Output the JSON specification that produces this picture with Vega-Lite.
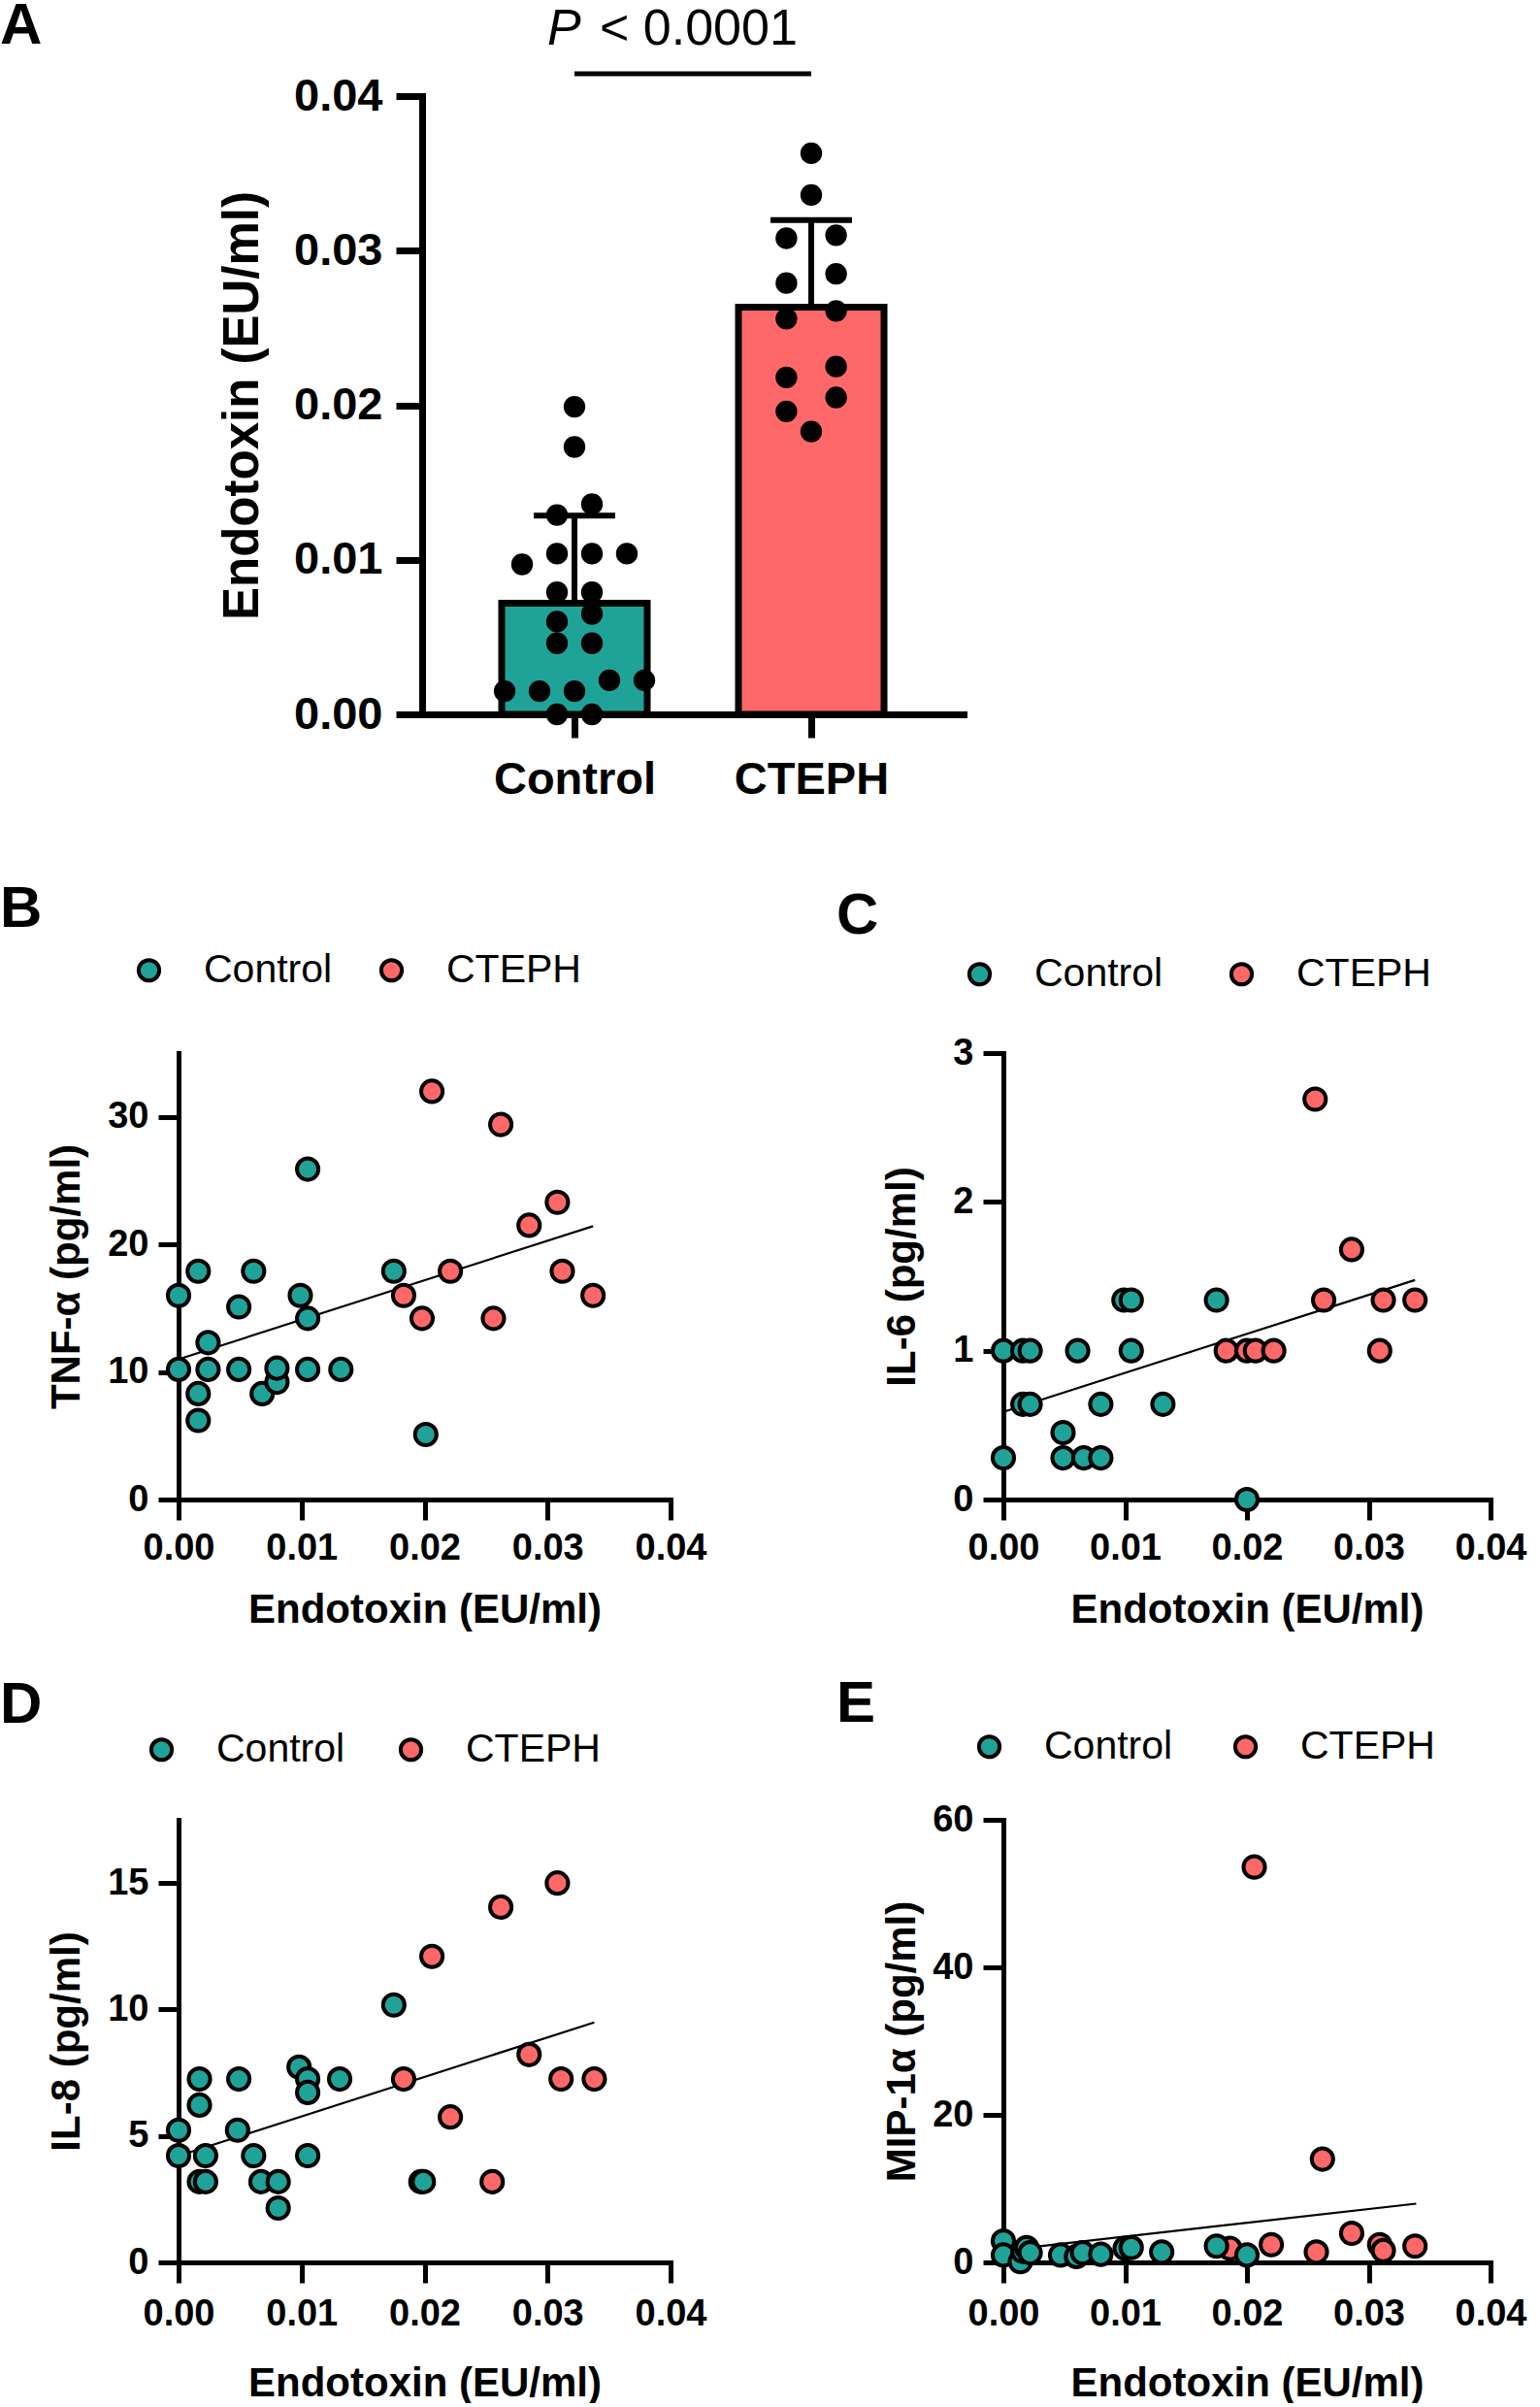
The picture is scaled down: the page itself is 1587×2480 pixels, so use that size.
{
  "$schema": "https://vega.github.io/schema/vega-lite/v6.json",
  "background": "white",
  "padding": {"left": 0, "top": -4, "right": 20, "bottom": 0},
  "datasets": {
    "endo": [
      {"group": "Control", "endotoxin": 0},
      {"group": "Control", "endotoxin": 0},
      {"group": "Control", "endotoxin": 0.0015},
      {"group": "Control", "endotoxin": 0.0015},
      {"group": "Control", "endotoxin": 0.0015},
      {"group": "Control", "endotoxin": 0.0022},
      {"group": "Control", "endotoxin": 0.0022},
      {"group": "Control", "endotoxin": 0.0046},
      {"group": "Control", "endotoxin": 0.0046},
      {"group": "Control", "endotoxin": 0.006},
      {"group": "Control", "endotoxin": 0.0065},
      {"group": "Control", "endotoxin": 0.0079},
      {"group": "Control", "endotoxin": 0.0079},
      {"group": "Control", "endotoxin": 0.0097},
      {"group": "Control", "endotoxin": 0.0104},
      {"group": "Control", "endotoxin": 0.0104},
      {"group": "Control", "endotoxin": 0.0104},
      {"group": "Control", "endotoxin": 0.0129},
      {"group": "Control", "endotoxin": 0.0136},
      {"group": "Control", "endotoxin": 0.0173},
      {"group": "Control", "endotoxin": 0.0199},
      {"group": "CTEPH", "endotoxin": 0.0183},
      {"group": "CTEPH", "endotoxin": 0.0196},
      {"group": "CTEPH", "endotoxin": 0.0205},
      {"group": "CTEPH", "endotoxin": 0.0218},
      {"group": "CTEPH", "endotoxin": 0.0225},
      {"group": "CTEPH", "endotoxin": 0.0256},
      {"group": "CTEPH", "endotoxin": 0.0261},
      {"group": "CTEPH", "endotoxin": 0.0279},
      {"group": "CTEPH", "endotoxin": 0.0285},
      {"group": "CTEPH", "endotoxin": 0.0308},
      {"group": "CTEPH", "endotoxin": 0.031},
      {"group": "CTEPH", "endotoxin": 0.0336},
      {"group": "CTEPH", "endotoxin": 0.0363}
    ],
    "annot": [
      {"from": "Control", "to": "CTEPH", "bracket": 0.04144, "texty": 0.04333, "p": "P", "rest": "< 0.0001"}
    ],
    "tnf": [
      {"group": "CTEPH", "endotoxin": 0.0206, "value": 32.0},
      {"group": "CTEPH", "endotoxin": 0.0262, "value": 29.4},
      {"group": "CTEPH", "endotoxin": 0.0308, "value": 23.3},
      {"group": "CTEPH", "endotoxin": 0.0285, "value": 21.5},
      {"group": "CTEPH", "endotoxin": 0.0221, "value": 17.9},
      {"group": "CTEPH", "endotoxin": 0.0312, "value": 17.9},
      {"group": "CTEPH", "endotoxin": 0.0183, "value": 16.0},
      {"group": "CTEPH", "endotoxin": 0.0337, "value": 16.0},
      {"group": "CTEPH", "endotoxin": 0.0198, "value": 14.2},
      {"group": "CTEPH", "endotoxin": 0.0256, "value": 14.2},
      {"group": "Control", "endotoxin": 0.0, "value": 16.0},
      {"group": "Control", "endotoxin": 0.0, "value": 10.2},
      {"group": "Control", "endotoxin": 0.0016, "value": 17.9},
      {"group": "Control", "endotoxin": 0.0016, "value": 8.3},
      {"group": "Control", "endotoxin": 0.0016, "value": 6.2},
      {"group": "Control", "endotoxin": 0.0024, "value": 12.3},
      {"group": "Control", "endotoxin": 0.0024, "value": 10.2},
      {"group": "Control", "endotoxin": 0.0049, "value": 15.1},
      {"group": "Control", "endotoxin": 0.0049, "value": 10.2},
      {"group": "Control", "endotoxin": 0.0061, "value": 17.9},
      {"group": "Control", "endotoxin": 0.0068, "value": 8.3},
      {"group": "Control", "endotoxin": 0.008, "value": 9.2},
      {"group": "Control", "endotoxin": 0.008, "value": 10.3},
      {"group": "Control", "endotoxin": 0.0099, "value": 16.0},
      {"group": "Control", "endotoxin": 0.0105, "value": 14.2},
      {"group": "Control", "endotoxin": 0.0105, "value": 10.2},
      {"group": "Control", "endotoxin": 0.0105, "value": 25.9},
      {"group": "Control", "endotoxin": 0.0132, "value": 10.2},
      {"group": "Control", "endotoxin": 0.0175, "value": 17.9},
      {"group": "Control", "endotoxin": 0.0201, "value": 5.1}
    ],
    "tnf_fit": [
      {"endotoxin": 0.0, "value": 11.0},
      {"endotoxin": 0.0337, "value": 21.43}
    ],
    "il6": [
      {"group": "CTEPH", "endotoxin": 0.0256, "value": 2.69},
      {"group": "CTEPH", "endotoxin": 0.0286, "value": 1.68},
      {"group": "CTEPH", "endotoxin": 0.0263, "value": 1.34},
      {"group": "CTEPH", "endotoxin": 0.0312, "value": 1.34},
      {"group": "CTEPH", "endotoxin": 0.0338, "value": 1.34},
      {"group": "CTEPH", "endotoxin": 0.0183, "value": 1.0},
      {"group": "CTEPH", "endotoxin": 0.02, "value": 1.0},
      {"group": "CTEPH", "endotoxin": 0.0207, "value": 1.0},
      {"group": "CTEPH", "endotoxin": 0.0222, "value": 1.0},
      {"group": "CTEPH", "endotoxin": 0.0309, "value": 1.0},
      {"group": "Control", "endotoxin": 0.0, "value": 1.0},
      {"group": "Control", "endotoxin": 0.0, "value": 0.28},
      {"group": "Control", "endotoxin": 0.0016, "value": 1.0},
      {"group": "Control", "endotoxin": 0.0022, "value": 1.0},
      {"group": "Control", "endotoxin": 0.0016, "value": 0.64},
      {"group": "Control", "endotoxin": 0.0022, "value": 0.64},
      {"group": "Control", "endotoxin": 0.0049, "value": 0.45},
      {"group": "Control", "endotoxin": 0.0049, "value": 0.28},
      {"group": "Control", "endotoxin": 0.0061, "value": 1.0},
      {"group": "Control", "endotoxin": 0.0066, "value": 0.28},
      {"group": "Control", "endotoxin": 0.008, "value": 0.64},
      {"group": "Control", "endotoxin": 0.008, "value": 0.28},
      {"group": "Control", "endotoxin": 0.0099, "value": 1.34},
      {"group": "Control", "endotoxin": 0.0105, "value": 1.34},
      {"group": "Control", "endotoxin": 0.0105, "value": 1.0},
      {"group": "Control", "endotoxin": 0.0131, "value": 0.64},
      {"group": "Control", "endotoxin": 0.0175, "value": 1.34},
      {"group": "Control", "endotoxin": 0.02, "value": 0.0}
    ],
    "il6_fit": [
      {"endotoxin": 0.0, "value": 0.589},
      {"endotoxin": 0.0338, "value": 1.475}
    ],
    "il8": [
      {"group": "CTEPH", "endotoxin": 0.0308, "value": 15.0},
      {"group": "CTEPH", "endotoxin": 0.0262, "value": 14.05},
      {"group": "CTEPH", "endotoxin": 0.0206, "value": 12.1},
      {"group": "CTEPH", "endotoxin": 0.0285, "value": 8.22},
      {"group": "CTEPH", "endotoxin": 0.0183, "value": 7.25},
      {"group": "CTEPH", "endotoxin": 0.0311, "value": 7.25},
      {"group": "CTEPH", "endotoxin": 0.0338, "value": 7.25},
      {"group": "CTEPH", "endotoxin": 0.0221, "value": 5.75},
      {"group": "CTEPH", "endotoxin": 0.0255, "value": 3.19},
      {"group": "CTEPH", "endotoxin": 0.0197, "value": 3.19},
      {"group": "Control", "endotoxin": 0.0, "value": 5.23},
      {"group": "Control", "endotoxin": 0.0, "value": 4.22},
      {"group": "Control", "endotoxin": 0.0017, "value": 7.25},
      {"group": "Control", "endotoxin": 0.0017, "value": 6.22},
      {"group": "Control", "endotoxin": 0.0017, "value": 3.19},
      {"group": "Control", "endotoxin": 0.0022, "value": 4.22},
      {"group": "Control", "endotoxin": 0.0022, "value": 3.19},
      {"group": "Control", "endotoxin": 0.0049, "value": 7.25},
      {"group": "Control", "endotoxin": 0.0048, "value": 5.23},
      {"group": "Control", "endotoxin": 0.0061, "value": 4.22},
      {"group": "Control", "endotoxin": 0.0067, "value": 3.19},
      {"group": "Control", "endotoxin": 0.0081, "value": 3.19},
      {"group": "Control", "endotoxin": 0.0081, "value": 2.15},
      {"group": "Control", "endotoxin": 0.0098, "value": 7.72},
      {"group": "Control", "endotoxin": 0.0105, "value": 7.25},
      {"group": "Control", "endotoxin": 0.0105, "value": 6.72},
      {"group": "Control", "endotoxin": 0.0105, "value": 4.22},
      {"group": "Control", "endotoxin": 0.0131, "value": 7.25},
      {"group": "Control", "endotoxin": 0.0175, "value": 10.18},
      {"group": "Control", "endotoxin": 0.0199, "value": 3.19}
    ],
    "il8_fit": [
      {"endotoxin": 0.0, "value": 4.21},
      {"endotoxin": 0.0338, "value": 9.49}
    ],
    "mip": [
      {"group": "CTEPH", "endotoxin": 0.0206, "value": 53.6},
      {"group": "CTEPH", "endotoxin": 0.0262, "value": 14.0},
      {"group": "CTEPH", "endotoxin": 0.0286, "value": 3.95},
      {"group": "CTEPH", "endotoxin": 0.022, "value": 2.4},
      {"group": "CTEPH", "endotoxin": 0.0309, "value": 2.4},
      {"group": "CTEPH", "endotoxin": 0.0338, "value": 2.2},
      {"group": "CTEPH", "endotoxin": 0.0257, "value": 1.4},
      {"group": "CTEPH", "endotoxin": 0.0186, "value": 1.9},
      {"group": "CTEPH", "endotoxin": 0.0312, "value": 1.6},
      {"group": "Control", "endotoxin": 0.0, "value": 2.9},
      {"group": "Control", "endotoxin": 0.0, "value": 1.0},
      {"group": "Control", "endotoxin": 0.0014, "value": 0.1},
      {"group": "Control", "endotoxin": 0.0016, "value": 1.5},
      {"group": "Control", "endotoxin": 0.0019, "value": 2.0},
      {"group": "Control", "endotoxin": 0.0022, "value": 1.3},
      {"group": "Control", "endotoxin": 0.0047, "value": 1.0},
      {"group": "Control", "endotoxin": 0.006, "value": 0.8},
      {"group": "Control", "endotoxin": 0.0065, "value": 1.3},
      {"group": "Control", "endotoxin": 0.008, "value": 1.1},
      {"group": "Control", "endotoxin": 0.01, "value": 1.9},
      {"group": "Control", "endotoxin": 0.0105, "value": 2.0},
      {"group": "Control", "endotoxin": 0.013, "value": 1.4},
      {"group": "Control", "endotoxin": 0.0175, "value": 2.2},
      {"group": "Control", "endotoxin": 0.02, "value": 1.0}
    ],
    "mip_fit": [
      {"endotoxin": 0.0, "value": 1.64},
      {"endotoxin": 0.0339, "value": 7.96}
    ]
  },
  "config": {
    "view": {"stroke": null},
    "font": "Liberation Sans",
    "axis": {
      "grid": false,
      "domainColor": "black",
      "tickColor": "black",
      "labelColor": "black",
      "titleColor": "black",
      "labelFont": "Liberation Sans",
      "titleFont": "Liberation Sans",
      "labelFontWeight": "bold",
      "titleFontWeight": "bold",
      "labelFontSize": 38,
      "titleFontSize": 42,
      "domainWidth": 5,
      "tickWidth": 5,
      "tickSize": 21,
      "labelFlush": false,
      "labelOverlap": false,
      "domainCap": "square"
    },
    "axisX": {"labelPadding": 10, "titlePadding": 24},
    "axisY": {"labelPadding": 10, "titlePadding": 20},
    "legend": {
      "title": null,
      "orient": "none",
      "direction": "horizontal",
      "labelFont": "Liberation Sans",
      "labelFontSize": 41,
      "labelColor": "black",
      "symbolType": "circle",
      "symbolSize": 450,
      "symbolStrokeColor": "black",
      "symbolStrokeWidth": 4,
      "symbolOpacity": 1,
      "labelOffset": 36,
      "columnPadding": 46,
      "padding": 0
    },
    "title": {
      "font": "Liberation Sans",
      "fontSize": 60,
      "fontWeight": "bold",
      "color": "black",
      "anchor": "start",
      "frame": "group"
    }
  },
  "resolve": {"scale": {"color": "independent"}, "legend": {"color": "independent"}},
  "spacing": 81,
  "vconcat": [
    {
      "bounds": "flush",
      "spacing": 0,
      "resolve": {"scale": {"color": "independent"}, "legend": {"color": "independent"}},
      "hconcat": [
        {
          "width": 251,
          "height": 10,
          "data": {"values": []},
          "mark": "point"
        },
        {
          "width": 558,
          "height": 637,
          "title": {"text": "A", "dx": -435, "offset": -54},
          "data": {"name": "endo"},
          "transform": [
            {"calculate": "datum.group == 'Control' ? 0 : 1", "as": "gi"}
          ],
          "layer": [
            {
              "transform": [
                {"aggregate": [{"op": "mean", "field": "endotoxin", "as": "m"}], "groupby": ["group", "gi"]},
                {"calculate": "datum.gi - 0.3074", "as": "bl"},
                {"calculate": "datum.gi + 0.3074", "as": "br"}
              ],
              "mark": {"type": "rect", "stroke": "black", "strokeWidth": 7},
              "encoding": {
                "x": {
                  "field": "bl",
                  "type": "quantitative",
                  "scale": {"domain": [-0.6434, 1.6434], "nice": false, "zero": false},
                  "axis": {"values": [0, 1], "labelExpr": "datum.value == 0 ? 'Control' : 'CTEPH'", "title": null, "labelFontSize": 47, "domainWidth": 7, "tickWidth": 7, "tickSize": 24, "labelPadding": 20}
                },
                "x2": {"field": "br"},
                "y": {
                  "field": "m",
                  "type": "quantitative",
                  "title": "Endotoxin (EU/ml)",
                  "scale": {"domain": [0, 0.04], "nice": false},
                  "axis": {"values": [0, 0.01, 0.02, 0.03, 0.04], "format": ".2f", "labelFontSize": 47, "titleFontSize": 51, "domainWidth": 7, "tickWidth": 7, "tickSize": 27, "labelPadding": 14, "titlePadding": 26}
                },
                "y2": {"datum": 0},
                "color": {
                  "field": "group",
                  "type": "nominal",
                  "scale": {"domain": ["Control", "CTEPH"], "range": ["#1fa398", "#ff6868"]},
                  "legend": null
                }
              }
            },
            {
              "transform": [
                {"aggregate": [{"op": "mean", "field": "endotoxin", "as": "m"}, {"op": "stdev", "field": "endotoxin", "as": "sd"}], "groupby": ["group", "gi"]},
                {"calculate": "datum.m + datum.sd", "as": "hi"},
                {"calculate": "datum.gi - 0.172", "as": "cl"},
                {"calculate": "datum.gi + 0.172", "as": "cr"}
              ],
              "layer": [
                {
                  "mark": {"type": "rule", "color": "black", "strokeWidth": 6},
                  "encoding": {
                    "x": {"field": "gi", "type": "quantitative"},
                    "y": {"field": "m", "type": "quantitative", "title": "Endotoxin (EU/ml)"},
                    "y2": {"field": "hi"}
                  }
                },
                {
                  "mark": {"type": "rule", "color": "black", "strokeWidth": 6},
                  "encoding": {
                    "x": {"field": "cl", "type": "quantitative"},
                    "x2": {"field": "cr"},
                    "y": {"field": "hi", "type": "quantitative", "title": "Endotoxin (EU/ml)"}
                  }
                }
              ]
            },
            {
              "transform": [
                {"window": [{"op": "lag", "field": "endotoxin", "as": "prev"}], "groupby": ["group"], "sort": [{"field": "endotoxin", "order": "ascending"}]},
                {"calculate": "datum.prev == null || datum.endotoxin - datum.prev > 0.00105 ? 1 : 0", "as": "newc"},
                {"window": [{"op": "sum", "field": "newc", "as": "cid"}], "groupby": ["group"], "sort": [{"field": "endotoxin", "order": "ascending"}], "frame": [null, 0]},
                {"window": [{"op": "row_number", "as": "idx"}], "groupby": ["group", "cid"], "sort": [{"field": "endotoxin", "order": "ascending"}]},
                {"joinaggregate": [{"op": "count", "as": "n"}], "groupby": ["group", "cid"]},
                {"calculate": "datum.gi + (datum.group == 'CTEPH' ? 0.21 : 0.1475) * (datum.idx - 1 - (datum.n - 1) / 2)", "as": "xp"}
              ],
              "mark": {"type": "point", "shape": "circle", "filled": true, "color": "black", "size": 500, "opacity": 1},
              "encoding": {
                "x": {"field": "xp", "type": "quantitative"},
                "y": {"field": "endotoxin", "type": "quantitative", "title": "Endotoxin (EU/ml)"}
              }
            },
            {
              "data": {"name": "annot"},
              "transform": [
                {"calculate": "datum.from == 'Control' ? 0 : 1", "as": "x1"},
                {"calculate": "datum.to == 'Control' ? 0 : 1", "as": "x2"}
              ],
              "layer": [
                {
                  "mark": {"type": "rule", "color": "black", "strokeWidth": 5, "clip": false},
                  "encoding": {
                    "x": {"field": "x1", "type": "quantitative"},
                    "x2": {"field": "x2"},
                    "y": {"field": "bracket", "type": "quantitative", "title": "Endotoxin (EU/ml)"}
                  }
                },
                {
                  "mark": {"type": "text", "align": "left", "baseline": "alphabetic", "fontSize": 52, "fontStyle": "italic", "font": "Liberation Sans", "color": "black", "dx": -28, "clip": false},
                  "encoding": {
                    "x": {"field": "x1", "type": "quantitative"},
                    "y": {"field": "texty", "type": "quantitative", "title": "Endotoxin (EU/ml)"},
                    "text": {"field": "p"}
                  }
                },
                {
                  "mark": {"type": "text", "align": "left", "baseline": "alphabetic", "fontSize": 52, "font": "Liberation Sans", "color": "black", "dx": 26, "clip": false},
                  "encoding": {
                    "x": {"field": "x1", "type": "quantitative"},
                    "y": {"field": "texty", "type": "quantitative", "title": "Endotoxin (EU/ml)"},
                    "text": {"field": "rest"}
                  }
                }
              ]
            }
          ]
        }
      ]
    },
    {
      "spacing": 47,
      "resolve": {"scale": {"color": "independent"}, "legend": {"color": "independent"}},
      "vconcat": [
        {
          "bounds": "flush",
          "spacing": 343,
          "resolve": {"scale": {"color": "independent"}, "legend": {"color": "independent"}},
          "hconcat": [
            {
              "width": 507,
              "height": 460,
              "title": {"text": "B", "dx": -184, "offset": 11},
              "layer": [
                {
                  "data": {"name": "tnf_fit"},
                  "mark": {"type": "line", "color": "black", "strokeWidth": 2.2},
                  "encoding": {
                    "x": {"field": "endotoxin", "type": "quantitative", "title": "Endotoxin (EU/ml)", "scale": {"domain": [0, 0.04], "nice": false, "zero": false}, "axis": {"values": [0, 0.01, 0.02, 0.03, 0.04], "format": ".2f"}},
                    "y": {"field": "value", "type": "quantitative", "title": "TNF-α (pg/ml)", "scale": {"domain": [0, 35], "nice": false}, "axis": {"values": [0, 10, 20, 30], "format": "d"}}
                  }
                },
                {
                  "data": {"name": "tnf"},
                  "mark": {"type": "point", "shape": "circle", "filled": true, "size": 490, "stroke": "black", "strokeWidth": 4, "opacity": 1},
                  "encoding": {
                    "x": {"field": "endotoxin", "type": "quantitative", "title": "Endotoxin (EU/ml)"},
                    "y": {"field": "value", "type": "quantitative", "title": "TNF-α (pg/ml)"},
                    "color": {"field": "group", "type": "nominal", "scale": {"domain": ["Control", "CTEPH"], "range": ["#1fa398", "#ff6868"]}, "legend": {"orient": "none", "legendX": -51, "legendY": -106, "columnPadding": 40}}
                  }
                }
              ]
            },
            {
              "width": 502,
              "height": 460,
              "title": {"text": "C", "dx": -172, "offset": 8},
              "layer": [
                {
                  "data": {"name": "il6_fit"},
                  "mark": {"type": "line", "color": "black", "strokeWidth": 2.2},
                  "encoding": {
                    "x": {"field": "endotoxin", "type": "quantitative", "title": "Endotoxin (EU/ml)", "scale": {"domain": [0, 0.04], "nice": false, "zero": false}, "axis": {"values": [0, 0.01, 0.02, 0.03, 0.04], "format": ".2f"}},
                    "y": {"field": "value", "type": "quantitative", "title": "IL-6 (pg/ml)", "scale": {"domain": [0, 3], "nice": false}, "axis": {"values": [0, 1, 2, 3], "format": "d", "titlePadding": 30}}
                  }
                },
                {
                  "data": {"name": "il6"},
                  "mark": {"type": "point", "shape": "circle", "filled": true, "size": 490, "stroke": "black", "strokeWidth": 4, "opacity": 1},
                  "encoding": {
                    "x": {"field": "endotoxin", "type": "quantitative", "title": "Endotoxin (EU/ml)"},
                    "y": {"field": "value", "type": "quantitative", "title": "IL-6 (pg/ml)"},
                    "color": {"field": "group", "type": "nominal", "scale": {"domain": ["Control", "CTEPH"], "range": ["#1fa398", "#ff6868"]}, "legend": {"orient": "none", "legendX": -45, "legendY": -102, "columnPadding": 60}}
                  }
                }
              ]
            }
          ]
        },
        {
          "bounds": "flush",
          "spacing": 343,
          "resolve": {"scale": {"color": "independent"}, "legend": {"color": "independent"}},
          "hconcat": [
            {
              "width": 507,
              "height": 456,
              "title": {"text": "D", "dx": -184, "offset": -6},
              "layer": [
                {
                  "data": {"name": "il8_fit"},
                  "mark": {"type": "line", "color": "black", "strokeWidth": 2.2},
                  "encoding": {
                    "x": {"field": "endotoxin", "type": "quantitative", "title": "Endotoxin (EU/ml)", "scale": {"domain": [0, 0.04], "nice": false, "zero": false}, "axis": {"values": [0, 0.01, 0.02, 0.03, 0.04], "format": ".2f", "labelPadding": 13, "titlePadding": 32}},
                    "y": {"field": "value", "type": "quantitative", "title": "IL-8 (pg/ml)", "scale": {"domain": [0, 17.5], "nice": false}, "axis": {"values": [0, 5, 10, 15], "format": "d"}}
                  }
                },
                {
                  "data": {"name": "il8"},
                  "mark": {"type": "point", "shape": "circle", "filled": true, "size": 490, "stroke": "black", "strokeWidth": 4, "opacity": 1},
                  "encoding": {
                    "x": {"field": "endotoxin", "type": "quantitative", "title": "Endotoxin (EU/ml)"},
                    "y": {"field": "value", "type": "quantitative", "title": "IL-8 (pg/ml)"},
                    "color": {"field": "group", "type": "nominal", "scale": {"domain": ["Control", "CTEPH"], "range": ["#1fa398", "#ff6868"]}, "legend": {"orient": "none", "legendX": -38, "legendY": -93, "columnPadding": 47}}
                  }
                }
              ]
            },
            {
              "width": 502,
              "height": 456,
              "title": {"text": "E", "dx": -172, "offset": -8},
              "layer": [
                {
                  "data": {"name": "mip_fit"},
                  "mark": {"type": "line", "color": "black", "strokeWidth": 2.2},
                  "encoding": {
                    "x": {"field": "endotoxin", "type": "quantitative", "title": "Endotoxin (EU/ml)", "scale": {"domain": [0, 0.04], "nice": false, "zero": false}, "axis": {"values": [0, 0.01, 0.02, 0.03, 0.04], "format": ".2f", "labelPadding": 13, "titlePadding": 32}},
                    "y": {"field": "value", "type": "quantitative", "title": "MIP-1α (pg/ml)", "scale": {"domain": [0, 60], "nice": false}, "axis": {"values": [0, 20, 40, 60], "format": "d", "titlePadding": 9}}
                  }
                },
                {
                  "data": {"name": "mip"},
                  "mark": {"type": "point", "shape": "circle", "filled": true, "size": 490, "stroke": "black", "strokeWidth": 4, "opacity": 1},
                  "encoding": {
                    "x": {"field": "endotoxin", "type": "quantitative", "title": "Endotoxin (EU/ml)"},
                    "y": {"field": "value", "type": "quantitative", "title": "MIP-1α (pg/ml)"},
                    "color": {"field": "group", "type": "nominal", "scale": {"domain": ["Control", "CTEPH"], "range": ["#1fa398", "#ff6868"]}, "legend": {"orient": "none", "legendX": -35, "legendY": -96, "columnPadding": 54}}
                  }
                }
              ]
            }
          ]
        }
      ]
    }
  ]
}
